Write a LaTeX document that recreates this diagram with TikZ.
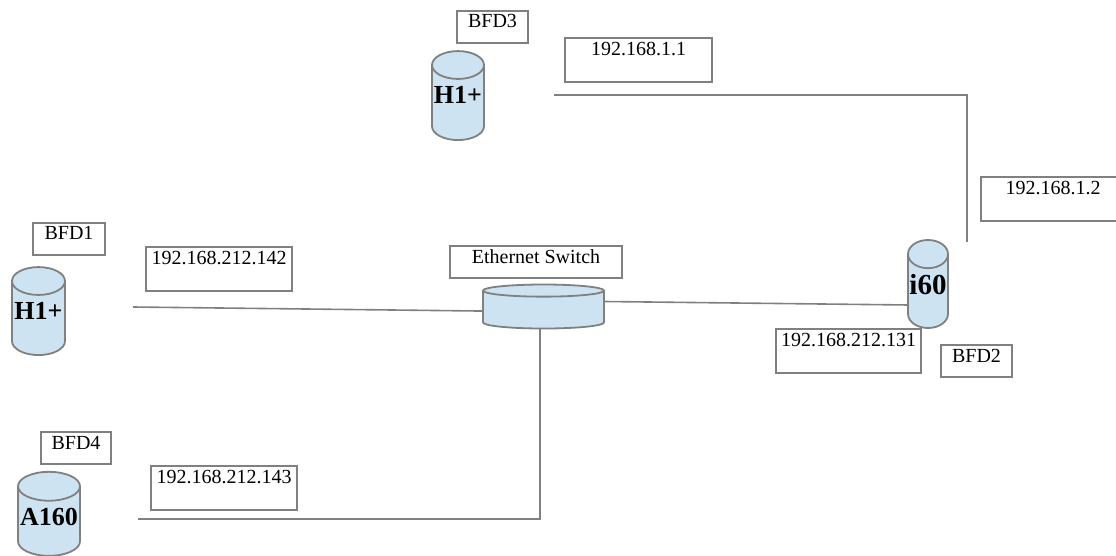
\documentclass[tikz,border=0pt]{standalone}
\usepackage{fontspec}
\setmainfont{Liberation Serif}
\usetikzlibrary{shapes.geometric}
\definecolor{devblue}{HTML}{CDE3F2}
\definecolor{edge}{HTML}{808080}
\newcommand{\lifted}[2]{\raisebox{#1}[\height][\depth]{#2}}
\tikzset{
  wire/.style={draw=edge,line width=1.6pt},
  tagbox/.style={draw=edge,line width=1.6pt,anchor=north,inner sep=0pt,outer sep=0pt,
    font=\fontsize{20}{22}\selectfont,text height=17pt,text depth=15pt},
  ipbox/.style={tagbox,text height=17.5pt,text depth=26.5pt},
  device/.style={cylinder,shape border rotate=90,draw=edge,line width=1.8pt,fill=devblue,
    inner sep=0pt,outer sep=0pt,font=\fontsize{26}{28}\bfseries\selectfont},
}
\begin{document}
\begin{tikzpicture}[x=1pt,y=-1pt]
\useasboundingbox (0,0) rectangle (1116,556);
% devices
\node[device,shape aspect=0.58,minimum width=52pt,minimum height=89pt] (h1top) at (458,103) {\lifted{8.5pt}{H1+}};
\node[device,shape aspect=0.58,minimum width=53pt,minimum height=88pt] (h1left) at (38.5,318.5) {\lifted{7.5pt}{H1+}};
\node[device,shape aspect=0.5,minimum width=62pt,minimum height=84pt] (a160) at (49,521.5) {\lifted{5pt}{A160}};
\node[device,shape aspect=0.76,minimum width=40pt,minimum height=88pt,font=\fontsize{29}{31}\bfseries\selectfont] (i60) at (928,291.5) {\lifted{7pt}{i60}};
\node[device,shape aspect=0.21,minimum width=121pt,minimum height=44pt] (switch) at (543.5,310) {\phantom{A160}};
% labels
\node[tagbox,minimum width=71pt] (bfd3) at (492.5,11) {BFD3};
\node[tagbox,minimum width=72pt] (bfd1) at (69,223) {BFD1};
\node[tagbox,minimum width=71pt] (bfd2) at (976.5,345) {BFD2};
\node[tagbox,minimum width=70pt] (bfd4) at (76,432) {BFD4};
\node[tagbox,minimum width=172pt] (swlabel) at (536,246) {Ethernet Switch};
\node[ipbox,minimum width=147pt] (ip11) at (638.5,38) {192.168.1.1};
\node[ipbox,minimum width=144pt] (ip12) at (1053,177) {192.168.1.2};
\node[ipbox,minimum width=146pt] (ip142) at (219,247) {192.168.212.142};
\node[ipbox,minimum width=145pt] (ip131) at (848.5,329) {192.168.212.131};
\node[ipbox,minimum width=146pt] (ip143) at (224,466) {192.168.212.143};
% free ends
\coordinate (top1) at (554,95);
\coordinate (top2) at (967,242);
\coordinate (left1) at (133,307);
\coordinate (low1) at (138,519);
% connectors
\draw[wire] (top1) -| (top2);
\draw[wire] (left1) -- (switch.181);
\draw[wire] (switch.8) -- (i60.214);
\draw[wire] (switch.260) |- (low1);
\end{tikzpicture}
\end{document}
